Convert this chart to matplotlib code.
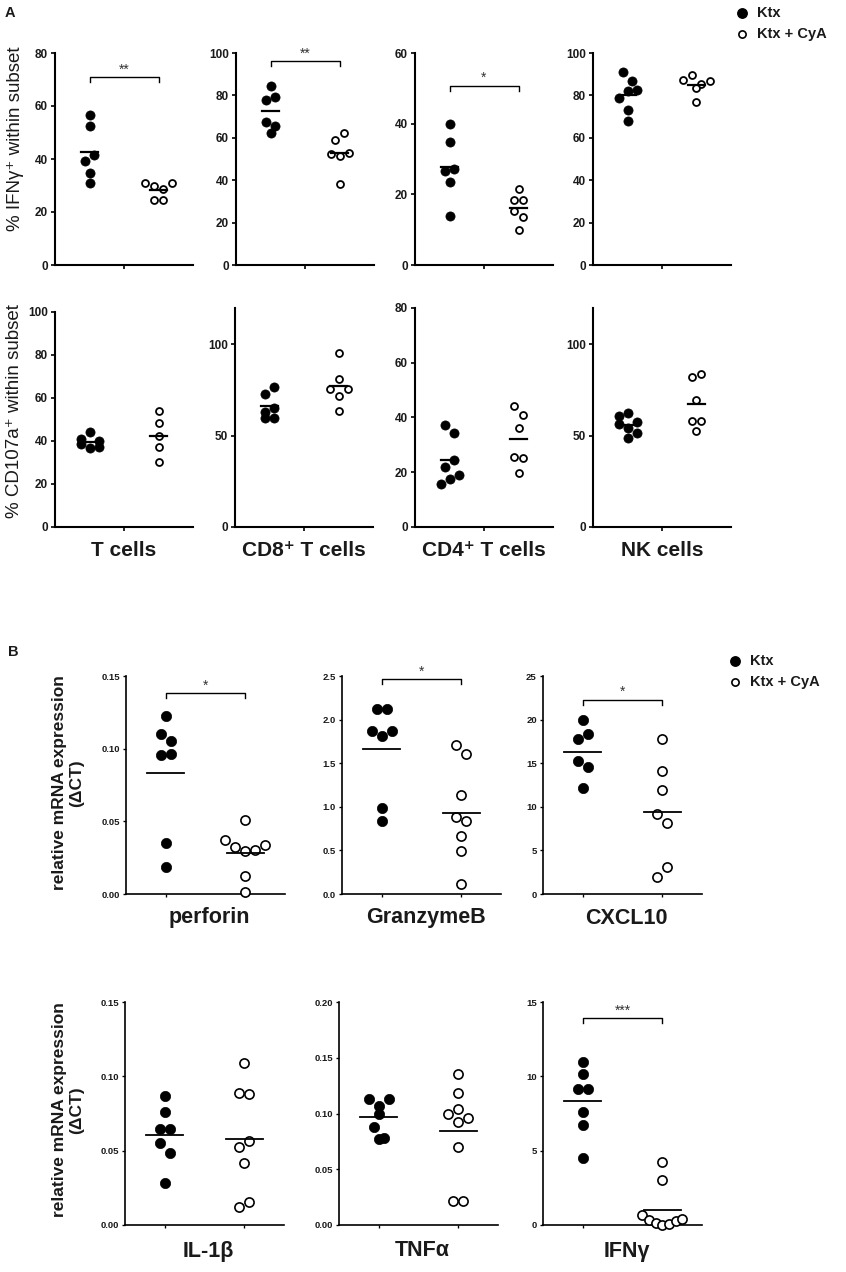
import numpy as np
import matplotlib
matplotlib.use("Agg")
import matplotlib.pyplot as plt
from matplotlib.lines import Line2D

# ---------------- data ----------------
# Panel A, top row: % IFN-gamma+ within subset
tcell_ifng_ktx = [56.5, 52.4, 39.2, 41.6, 34.6, 30.8]
tcell_ifng_cya = [30.9, 30.0, 28.5, 30.9, 24.7, 24.7]
cd8_ifng_ktx = [84.3, 77.6, 79.4, 67.4, 65.4, 62.5]
cd8_ifng_cya = [58.9, 62.5, 52.4, 51.2, 52.8, 38.1]
cd4_ifng_ktx = [39.8, 34.8, 26.6, 27.3, 23.5, 13.8]
cd4_ifng_cya = [21.5, 18.4, 18.4, 15.3, 13.5, 9.9]
nk_ifng_ktx = [91.0, 86.8, 79.0, 82.3, 82.4, 73.0, 68.0]
nk_ifng_cya = [87.4, 89.5, 85.6, 86.8, 83.7, 76.9]

# Panel A, bottom row: % CD107a+ within subset
tcell_cd107_ktx = [41.0, 44.4, 40.2, 38.6, 36.9, 37.4]
tcell_cd107_cya = [54.1, 48.5, 42.5, 37.1, 30.0]
cd8_cd107_ktx = [72.9, 76.8, 63.1, 65.3, 59.6, 59.6]
cd8_cd107_cya = [95.4, 81.0, 75.5, 71.7, 75.5, 63.8]
cd4_cd107_ktx = [37.2, 34.5, 21.8, 24.6, 15.8, 17.5, 19.1]
cd4_cd107_cya = [44.3, 41.0, 36.1, 25.5, 25.2, 19.7]
nk_cd107_ktx = [61.0, 62.3, 57.6, 56.7, 54.5, 51.3, 48.9]
nk_cd107_cya = [82.0, 83.8, 69.7, 58.2, 58.2, 52.6]

# Panel B: relative mRNA expression (delta CT)
perforin_ktx = [0.1224, 0.1102, 0.1056, 0.0955, 0.0961, 0.0349, 0.0184]
perforin_cya = [0.0512, 0.0372, 0.0322, 0.0299, 0.0306, 0.0338, 0.0122, 0.0011]
gzmb_ktx = [2.127, 2.127, 1.871, 1.810, 1.871, 0.983, 0.842]
gzmb_cya = [1.707, 1.604, 1.136, 0.880, 0.842, 0.667, 0.488, 0.118]
cxcl10_ktx = [19.9, 17.8, 18.3, 15.2, 14.6, 12.1]
cxcl10_cya = [17.8, 14.1, 11.9, 9.2, 8.1, 2.0, 3.1]
il1b_ktx = [0.0870, 0.0758, 0.0648, 0.0648, 0.0551, 0.0483, 0.0281]
il1b_cya = [0.109, 0.0888, 0.0881, 0.0522, 0.0567, 0.0416, 0.0124, 0.0153]
tnfa_ktx = [0.1132, 0.1066, 0.1126, 0.0997, 0.0877, 0.0772, 0.0781]
tnfa_cya = [0.135, 0.1183, 0.0997, 0.1036, 0.0958, 0.0928, 0.0698, 0.0213, 0.0213]
ifng_ktx = [10.98, 10.16, 9.15, 9.13, 7.59, 6.70, 4.51]
ifng_cya = [0.65, 0.33, 0.16, 0.0, 0.09, 0.27, 0.38, 4.22, 3.01]

# axis ranges / ticks
a_top_ylims = [80, 100, 60, 100]
a_bot_ylims = [100, 120, 80, 120]
a_top_ticks = [[0, 20, 40, 60, 80], [0, 20, 40, 60, 80, 100], [0, 20, 40, 60], [0, 20, 40, 60, 80, 100]]
a_bot_ticks = [[0, 20, 40, 60, 80, 100], [0, 50, 100], [0, 20, 40, 60, 80], [0, 50, 100]]
b_ylims = [0.15, 2.5, 25, 0.15, 0.20, 15]
b_ticks = [[0, 0.05, 0.10, 0.15], [0, 0.5, 1.0, 1.5, 2.0, 2.5], [0, 5, 10, 15, 20, 25],
           [0, 0.05, 0.10, 0.15], [0, 0.05, 0.10, 0.15, 0.20], [0, 5, 10, 15]]
b_tickfmt = ["{:.2f}", "{:.1f}", "{:.0f}", "{:.2f}", "{:.2f}", "{:.0f}"]

# significance brackets (height, label)
a_top_sig = [(71, "**"), (96, "**"), (50.8, "*"), None]
b_sig = [(0.138, "*"), (2.46, "*"), (22.3, "*"), None, None, (13.9, "***")]

subset_labels = ["T cells", "CD8⁺ T cells", "CD4⁺ T cells", "NK cells"]
gene_labels = ["perforin", "GranzymeB", "CXCL10", "IL-1β", "TNFα", "IFNγ"]
legend_labels = ["Ktx", "Ktx + CyA"]

# ---------------- figure ----------------
W, H = 846, 1272
plt.rcParams["font.family"] = ["Liberation Sans", "DejaVu Sans"]
fig = plt.figure(figsize=(W / 100, H / 100), dpi=100)
TXT = "#1a1a1a"


def add_ax(left, top, width, bottom):
    return fig.add_axes([left / W, 1 - bottom / H, width / W, (bottom - top) / H])


def arrange(ax, xc, vals, d, maxw):
    vals = np.asarray(vals, float)
    pix = ax.transData.transform(np.column_stack([np.full(len(vals), xc), vals]))
    ys = pix[:, 1]
    x0 = pix[0, 0]
    order = np.argsort(-vals, kind="stable")
    rows = []
    for i in order:
        if rows and ys[rows[-1][0]] - ys[i] < 1.1 * d:
            rows[-1].append(i)
        else:
            rows.append([i])
    xs = np.full(len(vals), x0)
    for r in rows:
        r = sorted(r)
        n = len(r)
        step = d if n < 2 else min(d, maxw / (n - 1))
        for k, i in enumerate(r):
            xs[i] = x0 + (k - (n - 1) / 2) * step
    return ax.transData.inverted().transform(np.column_stack([xs, ys]))[:, 0]


STYLE_A = dict(d=9.0, maxw=34, ms_f=6.6, ms_o=5.0, mew=1.3, hw=0.13, mlw=1.6,
               spine=1.5, tick_fs=8.5, tick_len=3.0)
STYLE_B = dict(d=10.0, maxw=40, ms_f=7.4, ms_o=6.6, mew=1.2, hw=0.23, mlw=1.3,
               spine=1.2, tick_fs=6.8, tick_len=2.5)


def draw(ax, ktx, cya, ymax, ticks, fmt, st, sig, xticks):
    ax.set_xlim(-0.5, 1.5)
    ax.set_ylim(0, ymax)
    for s in ("top", "right"):
        ax.spines[s].set_visible(False)
    for s in ("left", "bottom"):
        ax.spines[s].set_linewidth(st["spine"])
    ax.set_yticks(ticks, labels=[fmt.format(t) for t in ticks],
                  fontsize=st["tick_fs"], fontweight="bold", color=TXT)
    ax.set_xticks(xticks, labels=[""] * len(xticks))
    ax.tick_params(axis="both", length=st["tick_len"], width=st["spine"] * 0.8, pad=2)
    for xc, vals, filled in ((0, ktx, True), (1, cya, False)):
        xs = arrange(ax, xc, vals, st["d"], st["maxw"])
        if filled:
            ax.plot(xs, vals, "o", ms=st["ms_f"], mfc="black", mec="black", mew=0.5,
                    ls="none", clip_on=False, zorder=3)
        else:
            ax.plot(xs, vals, "o", ms=st["ms_o"], mfc="white", mec="black", mew=st["mew"],
                    ls="none", clip_on=False, zorder=3)
        m = float(np.mean(vals))
        ax.plot([xc - st["hw"], xc + st["hw"]], [m, m], color="black", lw=st["mlw"], zorder=4)
    if sig:
        yb, txt = sig
        hpx = ax.get_position().height * H
        tl = 5.0 * ymax / hpx
        ax.plot([0, 0, 1, 1], [yb - tl, yb, yb, yb - tl], color="black", lw=1.0,
                clip_on=False, zorder=4)
        ax.text(0.5, yb + 0.5 * ymax / hpx, txt, ha="center", va="bottom",
                fontsize=10, color="#333333")


def legend(xm, y1, y2, fs):
    fig.add_artist(Line2D([xm / W], [1 - y1 / H], transform=fig.transFigure, marker="o",
                          ms=6.8, mfc="black", mec="black", ls="none"))
    fig.add_artist(Line2D([xm / W], [1 - y2 / H], transform=fig.transFigure, marker="o",
                          ms=5.2, mfc="white", mec="black", mew=1.2, ls="none"))
    fig.text((xm + 15) / W, 1 - y1 / H, legend_labels[0], fontsize=fs, fontweight="bold",
             va="center", ha="left", color=TXT)
    fig.text((xm + 15) / W, 1 - y2 / H, legend_labels[1], fontsize=fs, fontweight="bold",
             va="center", ha="left", color=TXT)


# ----- Panel A -----
a_lefts_top = [55, 236, 415, 593]
a_lefts_bot = [55, 235, 415, 593]
a_width = 138
a_top_data = [(tcell_ifng_ktx, tcell_ifng_cya), (cd8_ifng_ktx, cd8_ifng_cya),
              (cd4_ifng_ktx, cd4_ifng_cya), (nk_ifng_ktx, nk_ifng_cya)]
a_bot_data = [(tcell_cd107_ktx, tcell_cd107_cya), (cd8_cd107_ktx, cd8_cd107_cya),
              (cd4_cd107_ktx, cd4_cd107_cya), (nk_cd107_ktx, nk_cd107_cya)]

for i in range(4):
    ax = add_ax(a_lefts_top[i], 53, a_width, 265)
    draw(ax, *a_top_data[i], a_top_ylims[i], a_top_ticks[i], "{:.0f}", STYLE_A,
         a_top_sig[i], [0.5])
    top = 312 if i == 0 else 308
    ax = add_ax(a_lefts_bot[i], top, a_width, 527)
    draw(ax, *a_bot_data[i], a_bot_ylims[i], a_bot_ticks[i], "{:.0f}", STYLE_A,
         None, [0.5])
    fig.text((a_lefts_bot[i] + a_width / 2) / W, 1 - 551 / H, subset_labels[i],
             ha="center", va="center", fontsize=15, fontweight="bold", color=TXT)

fig.text(15 / W, 1 - 139 / H, "% IFNγ⁺ within subset", rotation=90, ha="center",
         va="center", fontsize=13.5, color=TXT)
fig.text(15 / W, 1 - 411 / H, "% CD107a⁺ within subset", rotation=90, ha="center",
         va="center", fontsize=13.5, color=TXT)
fig.text(10 / W, 1 - 13 / H, "A", ha="center", va="center", fontsize=10.5,
         fontweight="bold", color=TXT)
legend(742, 13, 34, 10.5)

# ----- Panel B -----
b_boxes = [(126, 676, 894), (342, 676, 894), (543, 676, 894),
           (125, 1002, 1225), (339, 1002, 1225), (543, 1002, 1225)]
b_width = 159
b_data = [(perforin_ktx, perforin_cya), (gzmb_ktx, gzmb_cya), (cxcl10_ktx, cxcl10_cya),
          (il1b_ktx, il1b_cya), (tnfa_ktx, tnfa_cya), (ifng_ktx, ifng_cya)]
b_label_y = [918, 918, 918, 1251, 1251, 1251]

for i in range(6):
    left, top, bottom = b_boxes[i]
    ax = add_ax(left, top, b_width, bottom)
    draw(ax, *b_data[i], b_ylims[i], b_ticks[i], b_tickfmt[i], STYLE_B, b_sig[i], [0, 1])
    fig.text((left + b_width / 2 + 4) / W, 1 - b_label_y[i] / H, gene_labels[i],
             ha="center", va="center", fontsize=15.5, fontweight="bold", color=TXT)

for yc in (783, 1110):
    fig.text(68 / W, 1 - yc / H, "relative mRNA expression\n(ΔCT)", rotation=90,
             ha="center", va="center", fontsize=12.5, fontweight="bold", color=TXT,
             multialignment="center", linespacing=1.15)

fig.text(13 / W, 1 - 652 / H, "B", ha="center", va="center", fontsize=10.5,
         fontweight="bold", color=TXT)
legend(735, 661, 682, 10.5)

fig.savefig("out.png", dpi=100, facecolor="white")
